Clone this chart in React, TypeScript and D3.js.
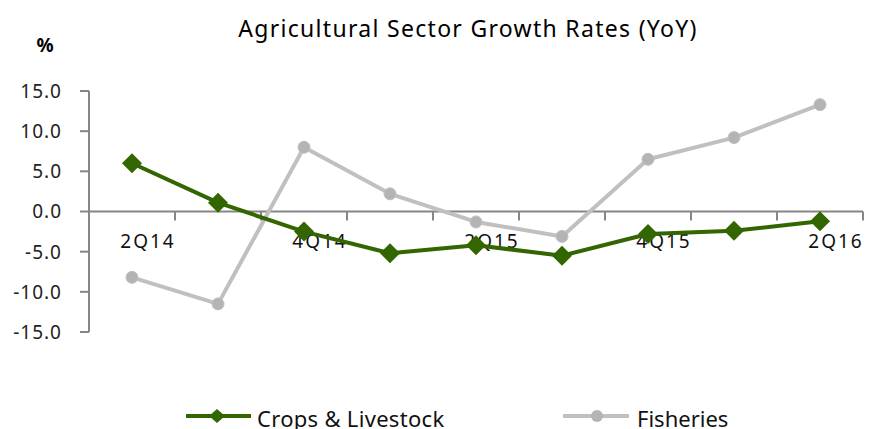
import React from "react";
import * as d3 from "d3";

const categories = ["2Q14", "3Q14", "4Q14", "1Q15", "2Q15", "3Q15", "4Q15", "1Q16", "2Q16"];
const shownLabels = ["2Q14", "4Q14", "2Q15", "4Q15", "2Q16"];
const crops = [6.0, 1.1, -2.5, -5.2, -4.2, -5.5, -2.8, -2.4, -1.2];
const fisheries = [-8.2, -11.5, 8.0, 2.2, -1.3, -3.1, 6.5, 9.2, 13.3];
const yTicks = [15, 10, 5, 0, -5, -10, -15];

const W = 870, H = 429;
const left = 89, right = 863;
const FONT = "'Noto Sans', sans-serif";
const GREEN = "#336600";
const GRAY = "#c0c0c0";
const MARK_GRAY = "#b4b4b4";
const AXIS = "#868686";

export default function App() {
  const x = d3.scaleBand().domain(categories).range([left, right]).padding(0);
  const y = d3.scaleLinear().domain([-15, 15]).range([332, 91]);
  const cx = (c: string) => (x(c) as number) + x.bandwidth() / 2;
  const line = d3.line<number>().x((_, i) => cx(categories[i])).y((d) => y(d));
  const diamond = (px: number, py: number, rx: number, ry: number) =>
    `M${px},${py - ry}L${px + rx},${py}L${px},${py + ry}L${px - rx},${py}Z`;

  return (
    <svg width={W} height={H} style={{ position: "absolute", left: 0, top: 0, background: "#fff" }}>
      <text x={468} y={37} textAnchor="middle" fontFamily={FONT} fontSize={23} fill="#000" letterSpacing={1.3}>
        Agricultural Sector Growth Rates (YoY)
      </text>
      <text x={45} y={52} textAnchor="middle" fontFamily={FONT} fontSize={19} fontWeight="bold" fill="#000">%</text>

      {/* y axis */}
      <line x1={left} x2={left} y1={y(15)} y2={y(-15)} stroke={AXIS} strokeWidth={2} />
      {yTicks.map((t) => (
        <g key={t}>
          <line x1={left - 9} x2={left} y1={y(t)} y2={y(t)} stroke={AXIS} strokeWidth={2} />
          <text x={62} y={y(t)} dy="0.36em" textAnchor="end" fontFamily={FONT} fontSize={19} letterSpacing={1} fill="#222">
            {t.toFixed(1)}
          </text>
        </g>
      ))}

      {/* x axis */}
      <line x1={left} x2={right} y1={y(0)} y2={y(0)} stroke={AXIS} strokeWidth={2} />
      {categories.map((c) => (
        <line key={c} x1={(x(c) as number) + x.bandwidth()} x2={(x(c) as number) + x.bandwidth()} y1={y(0)} y2={y(0) + 9} stroke={AXIS} strokeWidth={2} />
      ))}
      {shownLabels.map((c) => (
        <text key={c} x={cx(c) + 16} y={248} textAnchor="middle" fontFamily={FONT} fontSize={19} letterSpacing={2} fill="#111">
          {c}
        </text>
      ))}

      {/* fisheries */}
      <path d={line(fisheries) as string} fill="none" stroke={GRAY} strokeWidth={4} strokeLinejoin="round" />
      {fisheries.map((v, i) => (
        <circle key={i} cx={cx(categories[i])} cy={y(v)} r={6} fill={MARK_GRAY} stroke={GRAY} strokeWidth={1} />
      ))}

      {/* crops */}
      <path d={line(crops) as string} fill="none" stroke={GREEN} strokeWidth={4} strokeLinejoin="round" />
      {crops.map((v, i) => (
        <path key={i} d={diamond(cx(categories[i]), y(v), 10, 10)} fill={GREEN} />
      ))}

      {/* legend */}
      <line x1={186} x2={251} y1={416} y2={416} stroke={GREEN} strokeWidth={4} />
      <path d={diamond(217, 416, 8, 7)} fill={GREEN} />
      <text x={257} y={427} fontFamily={FONT} fontSize={22} letterSpacing={0.3} fill="#111">Crops &amp; Livestock</text>
      <line x1={563} x2={629} y1={416} y2={416} stroke={GRAY} strokeWidth={4} />
      <circle cx={597} cy={416} r={6} fill={MARK_GRAY} />
      <text x={637} y={427} fontFamily={FONT} fontSize={22} fill="#111">Fisheries</text>
    </svg>
  );
}
